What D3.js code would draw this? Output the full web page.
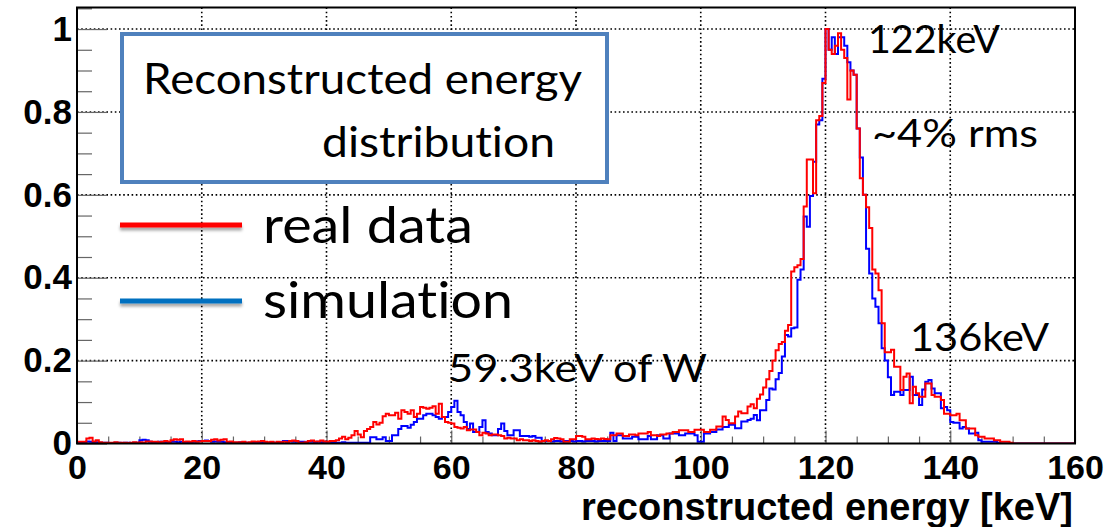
<!DOCTYPE html>
<html><head><meta charset="utf-8">
<script src="https://cdn.jsdelivr.net/npm/d3@7"></script>
<style>body{margin:0;background:#fff}svg{display:block}text{font-variant-ligatures:none;font-feature-settings:"liga" 0}</style>
</head><body><svg id="c" width="1112" height="527"></svg>
<script>
// ---------- data (0.5 keV bins from 0 to 160 keV) ----------
const xDomain = [0, 160];
const binWidth = 0.5;
const realData = [
0.004,0.004,0.004,0.012,0.014,0.005,0.008,0.003,0.002,0.002,
0.002,0.002,0.003,0.002,0.002,0.002,0.001,0.002,0.003,0.002,
0.003,0.002,0.005,0.005,0.004,0.004,0.003,0.004,0.006,0.004,
0.008,0.010,0.009,0.010,0.004,0.005,0.004,0.006,0.004,0.005,
0.006,0.006,0.006,0.009,0.010,0.007,0.009,0.010,0.004,0.005,
0.003,0.003,0.003,0.004,0.002,0.003,0.005,0.004,0.005,0.006,
0.004,0.003,0.004,0.002,0.004,0.003,0.004,0.003,0.006,0.007,
0.006,0.002,0.002,0.003,0.006,0.007,0.005,0.005,0.007,0.005,
0.004,0.006,0.006,0.008,0.012,0.016,0.010,0.014,0.020,0.030,
0.022,0.015,0.030,0.035,0.040,0.052,0.046,0.050,0.066,0.072,
0.068,0.068,0.074,0.060,0.080,0.076,0.072,0.080,0.064,0.072,
0.088,0.086,0.084,0.086,0.090,0.072,0.096,0.064,0.052,0.050,
0.048,0.040,0.038,0.036,0.040,0.032,0.034,0.034,0.028,0.020,
0.026,0.024,0.020,0.022,0.022,0.020,0.018,0.012,0.014,0.012,
0.012,0.008,0.010,0.008,0.008,0.006,0.008,0.006,0.004,0.006,
0.008,0.006,0.010,0.013,0.012,0.010,0.004,0.004,0.010,0.010,
0.018,0.018,0.016,0.010,0.010,0.012,0.011,0.010,0.012,0.011,
0.010,0.020,0.020,0.024,0.024,0.018,0.018,0.022,0.022,0.020,
0.024,0.024,0.024,0.028,0.020,0.020,0.018,0.022,0.022,0.024,
0.024,0.028,0.028,0.032,0.032,0.032,0.028,0.028,0.033,0.033,
0.033,0.028,0.028,0.033,0.033,0.041,0.041,0.065,0.057,0.049,
0.049,0.065,0.077,0.073,0.073,0.089,0.095,0.085,0.108,0.118,
0.135,0.155,0.175,0.200,0.225,0.240,0.245,0.272,0.286,0.415,
0.425,0.430,0.445,0.572,0.685,0.685,0.604,0.780,0.790,0.870,
1.000,0.950,0.940,0.960,0.990,0.950,0.930,0.830,0.900,0.890,
0.760,0.640,0.600,0.570,0.520,0.420,0.410,0.370,0.290,0.220,
0.220,0.226,0.185,0.185,0.129,0.161,0.169,0.097,0.137,0.121,
0.113,0.113,0.145,0.145,0.117,0.113,0.113,0.105,0.072,0.072,
0.068,0.068,0.072,0.056,0.056,0.036,0.036,0.036,0.020,0.016,
0.016,0.012,0.012,0.012,0.008,0.008,0.004,0.004,0.004,0.002,
0,0,0,0,0,0,0,0,0,0,
0,0,0,0,0,0,0,0,0,0
];
const simulation = [
0.002,0.002,0.003,0.005,0.004,0.003,0.003,0.002,0.002,0.002,
0.001,0.001,0.002,0.002,0.001,0.002,0.002,0.001,0.002,0.002,
0.008,0.009,0.008,0.004,0.003,0.003,0.004,0.004,0.003,0.003,
0.004,0.004,0.003,0.004,0.003,0.003,0.002,0.004,0.005,0.006,
0.006,0.007,0.006,0.004,0.005,0.004,0.004,0.003,0.003,0.002,
0.002,0.002,0.003,0.003,0.002,0.002,0.002,0.003,0.002,0.002,
0.002,0.002,0.003,0.002,0.002,0.003,0.006,0.006,0.005,0.004,
0.004,0.004,0.004,0.003,0.004,0.004,0.003,0.004,0.003,0.004,
0.003,0.002,0.002,0.002,0.002,0.003,0.002,0.002,0.002,0.002,
0.002,0.002,0.002,0.002,0.015,0.015,0.010,0.010,0.015,0.006,
0.006,0.020,0.020,0.035,0.042,0.042,0.038,0.045,0.052,0.060,
0.060,0.068,0.072,0.072,0.068,0.064,0.060,0.064,0.064,0.076,
0.088,0.103,0.076,0.068,0.052,0.035,0.048,0.028,0.028,0.040,
0.056,0.028,0.024,0.020,0.020,0.035,0.048,0.030,0.020,0.020,
0.032,0.032,0.018,0.018,0.018,0.016,0.018,0.014,0.014,0.006,
0.006,0.006,0.005,0.006,0.006,0.005,0.006,0.006,0.006,0.005,
0.006,0.006,0.005,0.006,0.006,0.006,0.005,0.006,0.006,0.006,
0.006,0.026,0.006,0.020,0.020,0.012,0.012,0.012,0.016,0.016,
0.010,0.010,0.010,0.018,0.010,0.010,0.020,0.020,0.012,0.012,
0.024,0.024,0.024,0.020,0.020,0.024,0.024,0.024,0.020,0.004,
0.004,0.024,0.024,0.028,0.028,0.034,0.034,0.040,0.040,0.045,
0.045,0.037,0.037,0.053,0.053,0.057,0.060,0.069,0.056,0.080,
0.080,0.105,0.133,0.130,0.155,0.170,0.210,0.262,0.258,0.278,
0.280,0.395,0.420,0.548,0.523,0.597,0.680,0.770,0.780,0.880,
1.000,0.950,0.980,0.940,0.980,0.980,0.960,0.920,0.900,0.890,
0.760,0.690,0.600,0.470,0.410,0.350,0.330,0.290,0.230,0.200,
0.160,0.117,0.125,0.125,0.117,0.129,0.129,0.161,0.117,0.117,
0.093,0.130,0.149,0.153,0.133,0.121,0.121,0.085,0.088,0.080,
0.052,0.050,0.050,0.036,0.040,0.036,0.024,0.024,0.026,0.008,
0.004,0.004,0.004,0.004,0.004,0.002,0,0,0,0,
0,0,0,0,0,0,0,0,0,0,
0,0,0,0,0,0,0,0,0,0
];
const xTicks = [0,20,40,60,80,100,120,140,160];
const xTickLabels = ["0","20","40","60","80","100","120","140","160"];
const yTicks = [0,0.2,0.4,0.6,0.8,1.0];
const yTickLabels = ["0","0.2","0.4","0.6","0.8","1"];
const xMinorTicks = [5,10,15,25,30,35,45,50,55,65,70,75,85,90,95,105,110,115,125,130,135,145,150,155];
const yMinorTicks = [0.05,0.1,0.15,0.25,0.3,0.35,0.45,0.5,0.55,0.65,0.7,0.75,0.85,0.9,0.95,1.05];
const seriesNames = ["real data","simulation"];
const seriesColors = ["#ff0000","#0000ff"];
const legendColors = ["#ff0000","#0070c0"];
const xTitle = "reconstructed energy [keV]";

// ---------- layout ----------
const L = 77, R = 1075, T = 7.5, B = 443.5;
const x = d3.scaleLinear().domain(xDomain).range([L, R]);
const y = d3.scaleLinear().domain([0, 1.052]).range([B, T]);
const svg = d3.select("#c");

const defs = svg.append("defs");
defs.append("clipPath").attr("id","plot").append("rect")
  .attr("x",L).attr("y",T).attr("width",R-L).attr("height",B-T);
const f = defs.append("filter").attr("id","sh").attr("filterUnits","userSpaceOnUse")
  .attr("x",100).attr("y",200).attr("width",170).attr("height",130);
f.append("feDropShadow").attr("dx",0).attr("dy",3).attr("stdDeviation",1.8)
  .attr("flood-color","#000").attr("flood-opacity",0.35);

// grid
const gridStyle = s => s.attr("stroke","#000").attr("stroke-width",1.6).attr("stroke-dasharray","1.6,2.6");
svg.append("g").selectAll("line").data(xTicks.filter(d=>d>0&&d<160)).join("line")
  .attr("x1",d=>x(d)).attr("x2",d=>x(d)).attr("y1",T).attr("y2",B).call(gridStyle);
svg.append("g").selectAll("line").data(yTicks.filter(d=>d>0)).join("line")
  .attr("x1",L).attr("x2",R).attr("y1",d=>y(d)).attr("y2",d=>y(d)).call(gridStyle);

// minor / major ticks via axes
const tickCol = "#666";
const styleTicks = g=>{g.select(".domain").remove(); g.selectAll("line").attr("stroke",tickCol).attr("stroke-width",1.2);};
svg.append("g").attr("transform",`translate(${L},0)`)
  .call(d3.axisLeft(y).tickValues(yMinorTicks).tickSize(-15).tickFormat("")).call(styleTicks);
svg.append("g").attr("transform",`translate(${L},0)`)
  .call(d3.axisLeft(y).tickValues(yTicks).tickSize(-30).tickFormat("")).call(styleTicks);
svg.append("g").attr("transform",`translate(0,${B})`)
  .call(d3.axisBottom(x).tickValues(xMinorTicks).tickSize(-7).tickFormat("")).call(styleTicks);
svg.append("g").attr("transform",`translate(0,${B})`)
  .call(d3.axisBottom(x).tickValues(xTicks).tickSize(-13).tickFormat("")).call(styleTicks);

// tick labels
const boldFont = "'Liberation Sans',Arial,sans-serif";
svg.append("g").attr("transform",`translate(${L},0)`)
  .call(d3.axisLeft(y).tickValues(yTicks).tickSize(0).tickPadding(5).tickFormat((d,i)=>yTickLabels[i]))
  .call(g=>{g.select(".domain").remove();
    g.selectAll("text").attr("font-family",boldFont).attr("font-weight","bold")
     .attr("font-size",35).attr("fill","#000");});
svg.append("g").attr("transform",`translate(0,${B})`)
  .call(d3.axisBottom(x).tickValues(xTicks).tickSize(0).tickPadding(11).tickFormat((d,i)=>xTickLabels[i]))
  .call(g=>{g.select(".domain").remove();
    g.selectAll("text").attr("font-family",boldFont).attr("font-weight","bold")
     .attr("font-size",34).attr("fill","#000");});

svg.append("text").attr("x",1073).attr("y",520).attr("text-anchor","end")
  .attr("font-family",boldFont).attr("font-weight","bold")
  .attr("font-size",38).attr("fill","#000").text(xTitle);

// histograms
const pts = vals => vals.map((v,i)=>[xDomain[0]+i*binWidth, v]).concat([[xDomain[1], vals[vals.length-1]]]);
const line = d3.line().x(d=>x(d[0])).y(d=>y(d[1])).curve(d3.curveStepAfter);
const hg = svg.append("g").attr("clip-path","url(#plot)");
hg.append("path").attr("d",line(pts(simulation))).attr("fill","none").attr("stroke",seriesColors[1]).attr("stroke-width",2);
hg.append("path").attr("d",line(pts(realData))).attr("fill","none").attr("stroke",seriesColors[0]).attr("stroke-width",2);

// frame
svg.append("rect").attr("x",L).attr("y",T).attr("width",R-L).attr("height",B-T)
  .attr("fill","none").attr("stroke","#000").attr("stroke-width",2);

// legend box
const lato = "Lato,'Open Sans',sans-serif";
svg.append("rect").attr("x",122).attr("y",34).attr("width",485).attr("height",148)
  .attr("fill","#fff").attr("stroke","#4f81bd").attr("stroke-width",4);
const txt = (s,xx,yy,size,w)=>svg.append("text").attr("x",xx).attr("y",yy).attr("font-family",lato)
  .attr("font-size",size).attr("fill","#000").attr("textLength",w).attr("lengthAdjust","spacingAndGlyphs").text(s);
txt("Reconstructed energy",143,94,43,439);
txt("distribution",322,157,43,233);

// legend lines (drawn as thin rects so the shadow filter works)
[225,301].forEach((yy,i)=>{
  svg.append("rect").attr("x",120).attr("y",yy-2.5).attr("width",122).attr("height",5)
    .attr("fill",legendColors[i]).attr("filter","url(#sh)");
});
txt(seriesNames[0],263,243,51,210);
txt(seriesNames[1],263,318,51,250);

// annotations
txt("122keV",868,53,39,132);
txt("~4% rms",872,147,39,166);
txt("136keV",910,351,39,139);
txt("59.3keV of W",448,382,39,259);
</script></body></html>
